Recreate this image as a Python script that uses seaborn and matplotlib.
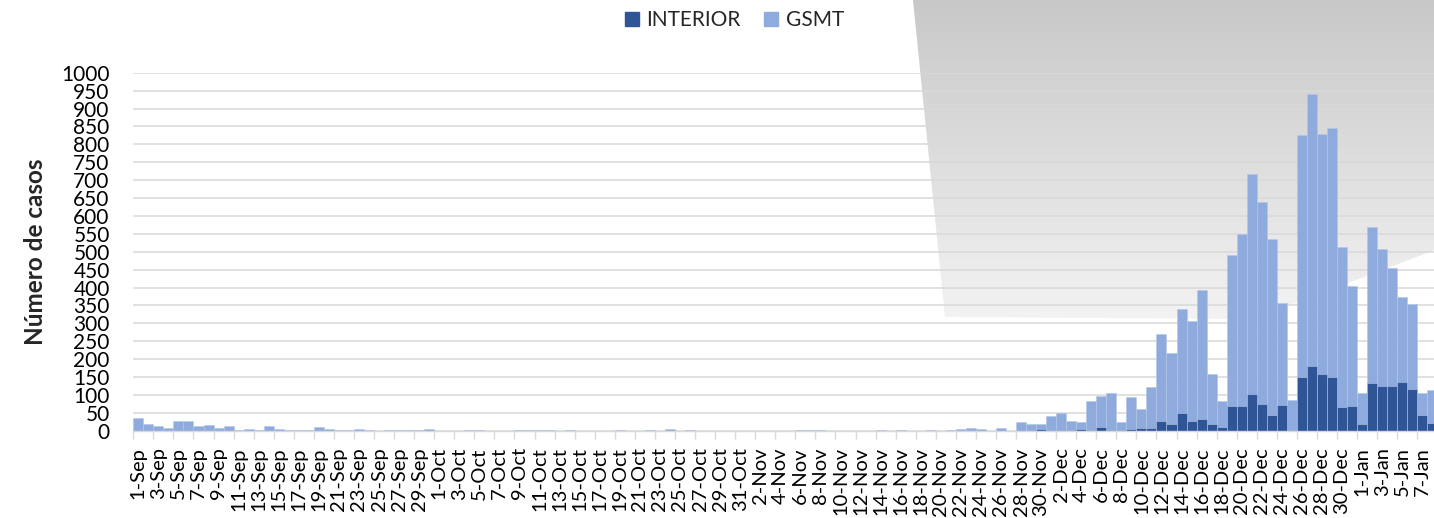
import numpy as np
import pandas as pd
import matplotlib
matplotlib.use("Agg")
import matplotlib.pyplot as plt
from matplotlib.patches import Polygon, Patch
import seaborn as sns

# === DATA (casos diarios, 1-Sep a 8-Jan) ===
INTERIOR_SEP = [0, 0, 0, 0, 0, 2, 0, 0, 0, 0, 0, 0, 0, 0, 0,
                0, 0, 0, 0, 0, 0, 0, 0, 0, 0, 0, 0, 0, 0, 0]
INTERIOR_OCT = [0] * 31
INTERIOR_NOV = [0, 0, 0, 0, 0, 0, 0, 0, 0, 0, 0, 0, 0, 0, 0,
                0, 0, 0, 0, 0, 0, 0, 0, 0, 0, 0, 0, 0, 0, 5]
INTERIOR_DEC = [2, 2, 1, 5, 2, 10, 3, 1, 4, 8, 8, 28, 20, 50, 28, 34,
                20, 9, 70, 68, 102, 75, 43, 72, 2, 151, 181, 158, 150, 65, 68]
INTERIOR_JAN = [20, 134, 126, 126, 135, 117, 44, 21]

GSMT_SEP = [36, 20, 14, 8, 27, 26, 14, 16, 8, 12, 3, 6, 2, 12, 4,
            3, 2, 2, 10, 4, 2, 2, 6, 1, 0, 1, 1, 1, 2, 5]
GSMT_OCT = [0, 0, 0, 1, 1, 0, 0, 0, 1, 1, 2, 2, 0, 1, 0, 0,
            0, 0, 2, 0, 0, 1, 0, 4, 0, 1, 0, 0, 0, 0, 0]
GSMT_NOV = [0, 0, 0, 0, 0, 3, 1, 2, 0, 0, 0, 0, 0, 1, 0,
            3, 0, 0, 1, 0, 1, 4, 7, 6, 0, 8, 0, 24, 19, 13]
GSMT_DEC = [39, 47, 26, 20, 81, 88, 103, 24, 91, 52, 115, 243, 198, 291, 278, 359,
            137, 75, 422, 482, 615, 563, 493, 286, 85, 675, 759, 672, 696, 449, 336]
GSMT_JAN = [86, 435, 382, 329, 239, 236, 61, 94]

MONTHS = ["Sep", "Oct", "Nov", "Dec", "Jan"]
DAYS_IN_MONTH = [30, 31, 30, 31, 8]

DARK = "#2F5597"
LIGHT = "#8FAADC"
GRID = "#D9D9D9"

# === BUILD TABLE ===
fechas = [f"{d}-{m}" for m, n in zip(MONTHS, DAYS_IN_MONTH) for d in range(1, n + 1)]
interior = INTERIOR_SEP + INTERIOR_OCT + INTERIOR_NOV + INTERIOR_DEC + INTERIOR_JAN
gsmt = GSMT_SEP + GSMT_OCT + GSMT_NOV + GSMT_DEC + GSMT_JAN
df = pd.DataFrame({"fecha": fechas, "INTERIOR": interior, "GSMT": gsmt})
df["total"] = df["INTERIOR"] + df["GSMT"]

sns.set_theme(style="white")
plt.rcParams["font.family"] = ["Lato", "DejaVu Sans"]

W, H = 1434, 518
fig = plt.figure(figsize=(W / 100, H / 100), dpi=100)

# === DECORATIVE GREY SHAPE (behind the chart) ===
bg = fig.add_axes([0, 0, 1, 1], zorder=0)
bg.set_xlim(0, W)
bg.set_ylim(H, 0)
bg.axis("off")
grad = np.linspace(0, 1, 256).reshape(-1, 1)
cmap = matplotlib.colors.LinearSegmentedColormap.from_list("g", ["#C8C8C8", "#F3F3F3"])
img = bg.imshow(grad, cmap=cmap, extent=[900, W, 320, 0], aspect="auto")
shape = Polygon([(913, 0), (945, 317), (1254, 319), (1440, 248), (1440, 0)],
                closed=True, transform=bg.transData, facecolor="none", edgecolor="none")
bg.add_patch(shape)
img.set_clip_path(shape)

# === MAIN CHART ===
ax = fig.add_axes([133.3 / W, 87.3 / H, 1304 / W, 358 / H], zorder=1)
ax.patch.set_alpha(0)

sns.barplot(data=df, x="fecha", y="total", color=LIGHT, saturation=1, width=1,
            edgecolor="#B4C7E7", linewidth=0.4, errorbar=None, ax=ax)
sns.barplot(data=df, x="fecha", y="INTERIOR", color=DARK, saturation=1, width=1,
            edgecolor="#B4C7E7", linewidth=0.4, errorbar=None, ax=ax)

ax.set_xlim(-0.5, len(df) - 0.5)
ax.set_ylim(0, 1000)
ax.set_yticks(range(0, 1001, 50))
ax.tick_params(axis="y", labelsize=15, length=0, pad=17, colors="black")
ax.yaxis.grid(True, color=GRID, linewidth=1.1)
ax.set_axisbelow(True)

ax.set_xticks(range(0, len(df), 2))
ax.set_xticklabels(df["fecha"][::2], rotation=90)
ax.set_xticks(np.arange(-0.5, len(df), 2), minor=True)
ax.tick_params(axis="x", which="major", length=0, labelsize=14.5, pad=12, colors="black")
ax.tick_params(axis="x", which="minor", length=6, width=1, color=GRID, bottom=True)

for s in ["top", "right", "left"]:
    ax.spines[s].set_visible(False)
ax.spines["bottom"].set_color(GRID)
ax.spines["bottom"].set_linewidth(1)

ax.set_xlabel("")
ax.set_ylabel("Número de casos", fontsize=17.5, fontweight="bold")
ax.yaxis.set_label_coords(-(133.3 - 47) / 1304, 0.5)

handles = [Patch(color=DARK, label="INTERIOR"), Patch(color=LIGHT, label="GSMT")]
fig.legend(handles=handles, loc="center", bbox_to_anchor=(0.512, 0.961), ncol=2,
           frameon=False, fontsize=15, handlelength=0.7, handleheight=0.7,
           handletextpad=0.35, columnspacing=1.1)

fig.savefig("out.png", dpi=100)
